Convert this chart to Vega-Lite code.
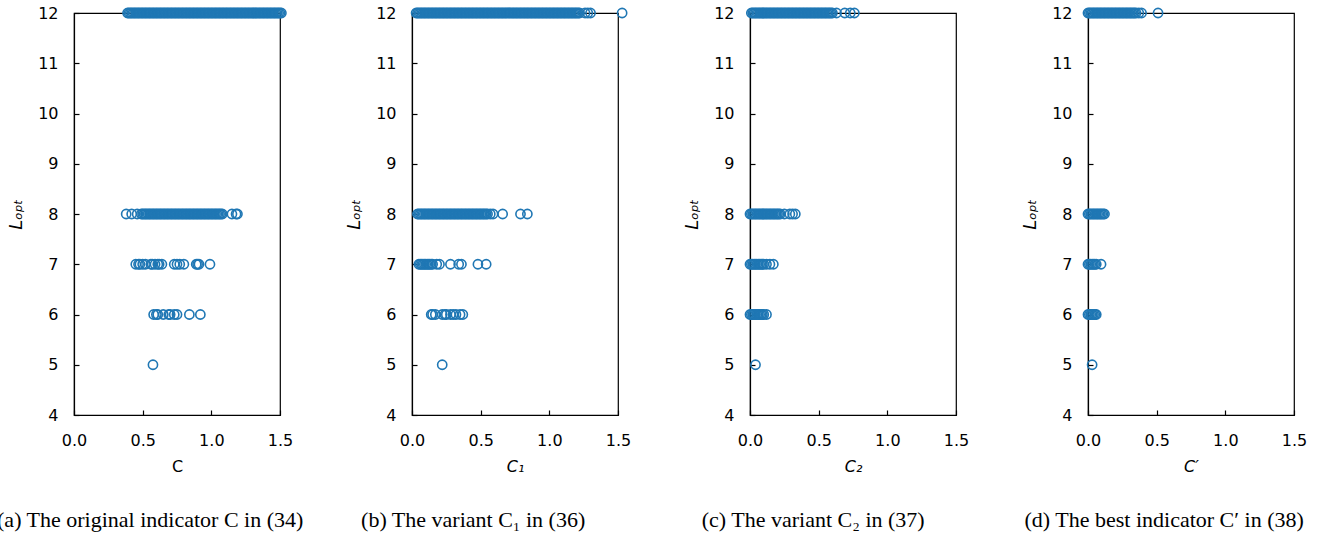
{
  "$schema": "https://vega.github.io/schema/vega-lite/v6.json",
  "padding": {"left": -4, "top": 4, "right": 5, "bottom": 5},
  "bounds": "flush",
  "spacing": 132,
  "background": "white",
  "config": {
    "view": {"stroke": "black", "strokeWidth": 1.2},
    "axis": {
      "grid": false,
      "domainColor": "black",
      "domainWidth": 1.2,
      "tickColor": "black",
      "tickWidth": 1.2,
      "tickSize": -5,
      "labelColor": "black",
      "titleColor": "black",
      "labelFont": "DejaVu Sans",
      "titleFont": "DejaVu Sans",
      "labelFontSize": 16,
      "titleFontSize": 16,
      "titleFontWeight": "normal",
      "labelFlush": false
    },
    "axisX": {"labelPadding": 22, "titlePadding": 10},
    "axisY": {"labelPadding": 21, "titlePadding": 12},
    "title": {
      "orient": "bottom",
      "font": "Liberation Serif",
      "fontSize": 22,
      "fontWeight": "normal",
      "color": "black",
      "anchor": "middle",
      "frame": "bounds",
      "offset": 36
    }
  },
  "datasets": {
    "a": [
      {"c":0.39,"l":12},{"c":0.40,"l":12},{"c":0.41,"l":12},{"c":0.42,"l":12},{"c":0.43,"l":12},{"c":0.44,"l":12},{"c":0.45,"l":12},{"c":0.46,"l":12},{"c":0.47,"l":12},{"c":0.48,"l":12},{"c":0.49,"l":12},
      {"c":0.50,"l":12},{"c":0.51,"l":12},{"c":0.52,"l":12},{"c":0.53,"l":12},{"c":0.54,"l":12},{"c":0.55,"l":12},{"c":0.56,"l":12},{"c":0.57,"l":12},{"c":0.58,"l":12},{"c":0.59,"l":12},
      {"c":0.60,"l":12},{"c":0.61,"l":12},{"c":0.62,"l":12},{"c":0.63,"l":12},{"c":0.64,"l":12},{"c":0.65,"l":12},{"c":0.66,"l":12},{"c":0.67,"l":12},{"c":0.68,"l":12},{"c":0.69,"l":12},
      {"c":0.70,"l":12},{"c":0.71,"l":12},{"c":0.72,"l":12},{"c":0.73,"l":12},{"c":0.74,"l":12},{"c":0.75,"l":12},{"c":0.76,"l":12},{"c":0.77,"l":12},{"c":0.78,"l":12},{"c":0.79,"l":12},
      {"c":0.80,"l":12},{"c":0.81,"l":12},{"c":0.82,"l":12},{"c":0.83,"l":12},{"c":0.84,"l":12},{"c":0.85,"l":12},{"c":0.86,"l":12},{"c":0.87,"l":12},{"c":0.88,"l":12},{"c":0.89,"l":12},
      {"c":0.90,"l":12},{"c":0.91,"l":12},{"c":0.92,"l":12},{"c":0.93,"l":12},{"c":0.94,"l":12},{"c":0.95,"l":12},{"c":0.96,"l":12},{"c":0.97,"l":12},{"c":0.98,"l":12},{"c":0.99,"l":12},
      {"c":1.00,"l":12},{"c":1.01,"l":12},{"c":1.02,"l":12},{"c":1.03,"l":12},{"c":1.04,"l":12},{"c":1.05,"l":12},{"c":1.06,"l":12},{"c":1.07,"l":12},{"c":1.08,"l":12},{"c":1.09,"l":12},
      {"c":1.10,"l":12},{"c":1.11,"l":12},{"c":1.12,"l":12},{"c":1.13,"l":12},{"c":1.14,"l":12},{"c":1.15,"l":12},{"c":1.16,"l":12},{"c":1.17,"l":12},{"c":1.18,"l":12},{"c":1.19,"l":12},
      {"c":1.20,"l":12},{"c":1.21,"l":12},{"c":1.22,"l":12},{"c":1.23,"l":12},{"c":1.24,"l":12},{"c":1.25,"l":12},{"c":1.26,"l":12},{"c":1.27,"l":12},{"c":1.28,"l":12},{"c":1.29,"l":12},
      {"c":1.30,"l":12},{"c":1.31,"l":12},{"c":1.32,"l":12},{"c":1.33,"l":12},{"c":1.34,"l":12},{"c":1.35,"l":12},{"c":1.36,"l":12},{"c":1.37,"l":12},{"c":1.38,"l":12},{"c":1.39,"l":12},
      {"c":1.40,"l":12},{"c":1.41,"l":12},{"c":1.42,"l":12},{"c":1.43,"l":12},{"c":1.44,"l":12},{"c":1.45,"l":12},{"c":1.46,"l":12},{"c":1.47,"l":12},{"c":1.48,"l":12},{"c":1.49,"l":12},
      {"c":1.50,"l":12},{"c":1.51,"l":12},
      {"c":0.38,"l":8},{"c":0.42,"l":8},{"c":0.46,"l":8},
      {"c":0.49,"l":8},{"c":0.50,"l":8},{"c":0.51,"l":8},{"c":0.52,"l":8},{"c":0.53,"l":8},{"c":0.54,"l":8},{"c":0.55,"l":8},{"c":0.56,"l":8},{"c":0.57,"l":8},{"c":0.58,"l":8},{"c":0.59,"l":8},
      {"c":0.60,"l":8},{"c":0.61,"l":8},{"c":0.62,"l":8},{"c":0.63,"l":8},{"c":0.64,"l":8},{"c":0.65,"l":8},{"c":0.66,"l":8},{"c":0.67,"l":8},{"c":0.68,"l":8},{"c":0.69,"l":8},
      {"c":0.70,"l":8},{"c":0.71,"l":8},{"c":0.72,"l":8},{"c":0.73,"l":8},{"c":0.74,"l":8},{"c":0.75,"l":8},{"c":0.76,"l":8},{"c":0.77,"l":8},{"c":0.78,"l":8},{"c":0.79,"l":8},
      {"c":0.80,"l":8},{"c":0.81,"l":8},{"c":0.82,"l":8},{"c":0.83,"l":8},{"c":0.84,"l":8},{"c":0.85,"l":8},{"c":0.86,"l":8},{"c":0.87,"l":8},{"c":0.88,"l":8},{"c":0.89,"l":8},
      {"c":0.90,"l":8},{"c":0.91,"l":8},{"c":0.92,"l":8},{"c":0.93,"l":8},{"c":0.94,"l":8},{"c":0.95,"l":8},{"c":0.96,"l":8},{"c":0.97,"l":8},{"c":0.98,"l":8},{"c":0.99,"l":8},
      {"c":1.00,"l":8},{"c":1.01,"l":8},{"c":1.02,"l":8},{"c":1.03,"l":8},{"c":1.04,"l":8},{"c":1.05,"l":8},{"c":1.06,"l":8},{"c":1.07,"l":8},{"c":1.08,"l":8},
      {"c":1.15,"l":8},{"c":1.18,"l":8},{"c":1.19,"l":8},
      {"c":0.45,"l":7},{"c":0.47,"l":7},{"c":0.48,"l":7},{"c":0.50,"l":7},{"c":0.52,"l":7},{"c":0.56,"l":7},{"c":0.57,"l":7},{"c":0.59,"l":7},{"c":0.61,"l":7},{"c":0.62,"l":7},{"c":0.64,"l":7},
      {"c":0.73,"l":7},{"c":0.75,"l":7},{"c":0.77,"l":7},{"c":0.80,"l":7},{"c":0.89,"l":7},{"c":0.90,"l":7},{"c":0.91,"l":7},{"c":0.99,"l":7},
      {"c":0.58,"l":6},{"c":0.60,"l":6},{"c":0.61,"l":6},{"c":0.65,"l":6},{"c":0.69,"l":6},{"c":0.70,"l":6},{"c":0.73,"l":6},{"c":0.75,"l":6},{"c":0.84,"l":6},{"c":0.92,"l":6},
      {"c":0.575,"l":5}
    ],
    "b": [
      {"c":0.03,"l":12},{"c":0.04,"l":12},{"c":0.05,"l":12},{"c":0.06,"l":12},{"c":0.07,"l":12},{"c":0.08,"l":12},{"c":0.09,"l":12},
      {"c":0.10,"l":12},{"c":0.11,"l":12},{"c":0.12,"l":12},{"c":0.13,"l":12},{"c":0.14,"l":12},{"c":0.15,"l":12},{"c":0.16,"l":12},{"c":0.17,"l":12},{"c":0.18,"l":12},{"c":0.19,"l":12},
      {"c":0.20,"l":12},{"c":0.21,"l":12},{"c":0.22,"l":12},{"c":0.23,"l":12},{"c":0.24,"l":12},{"c":0.25,"l":12},{"c":0.26,"l":12},{"c":0.27,"l":12},{"c":0.28,"l":12},{"c":0.29,"l":12},
      {"c":0.30,"l":12},{"c":0.31,"l":12},{"c":0.32,"l":12},{"c":0.33,"l":12},{"c":0.34,"l":12},{"c":0.35,"l":12},{"c":0.36,"l":12},{"c":0.37,"l":12},{"c":0.38,"l":12},{"c":0.39,"l":12},
      {"c":0.40,"l":12},{"c":0.41,"l":12},{"c":0.42,"l":12},{"c":0.43,"l":12},{"c":0.44,"l":12},{"c":0.45,"l":12},{"c":0.46,"l":12},{"c":0.47,"l":12},{"c":0.48,"l":12},{"c":0.49,"l":12},
      {"c":0.50,"l":12},{"c":0.51,"l":12},{"c":0.52,"l":12},{"c":0.53,"l":12},{"c":0.54,"l":12},{"c":0.55,"l":12},{"c":0.56,"l":12},{"c":0.57,"l":12},{"c":0.58,"l":12},{"c":0.59,"l":12},
      {"c":0.60,"l":12},{"c":0.61,"l":12},{"c":0.62,"l":12},{"c":0.63,"l":12},{"c":0.64,"l":12},{"c":0.65,"l":12},{"c":0.66,"l":12},{"c":0.67,"l":12},{"c":0.68,"l":12},{"c":0.69,"l":12},
      {"c":0.70,"l":12},{"c":0.71,"l":12},{"c":0.72,"l":12},{"c":0.73,"l":12},{"c":0.74,"l":12},{"c":0.75,"l":12},{"c":0.76,"l":12},{"c":0.77,"l":12},{"c":0.78,"l":12},{"c":0.79,"l":12},
      {"c":0.80,"l":12},{"c":0.81,"l":12},{"c":0.82,"l":12},{"c":0.83,"l":12},{"c":0.84,"l":12},{"c":0.85,"l":12},{"c":0.86,"l":12},{"c":0.87,"l":12},{"c":0.88,"l":12},{"c":0.89,"l":12},
      {"c":0.90,"l":12},{"c":0.91,"l":12},{"c":0.92,"l":12},{"c":0.93,"l":12},{"c":0.94,"l":12},{"c":0.95,"l":12},{"c":0.96,"l":12},{"c":0.97,"l":12},{"c":0.98,"l":12},{"c":0.99,"l":12},
      {"c":1.00,"l":12},{"c":1.01,"l":12},{"c":1.02,"l":12},{"c":1.03,"l":12},{"c":1.04,"l":12},{"c":1.05,"l":12},{"c":1.06,"l":12},{"c":1.07,"l":12},{"c":1.08,"l":12},{"c":1.09,"l":12},
      {"c":1.10,"l":12},{"c":1.11,"l":12},{"c":1.12,"l":12},{"c":1.13,"l":12},{"c":1.14,"l":12},{"c":1.15,"l":12},{"c":1.16,"l":12},{"c":1.17,"l":12},{"c":1.18,"l":12},{"c":1.19,"l":12},
      {"c":1.20,"l":12},{"c":1.21,"l":12},{"c":1.22,"l":12},{"c":1.26,"l":12},{"c":1.28,"l":12},{"c":1.30,"l":12},{"c":1.53,"l":12},
      {"c":0.04,"l":8},{"c":0.05,"l":8},{"c":0.06,"l":8},{"c":0.07,"l":8},{"c":0.08,"l":8},{"c":0.09,"l":8},
      {"c":0.10,"l":8},{"c":0.11,"l":8},{"c":0.12,"l":8},{"c":0.13,"l":8},{"c":0.14,"l":8},{"c":0.15,"l":8},{"c":0.16,"l":8},{"c":0.17,"l":8},{"c":0.18,"l":8},{"c":0.19,"l":8},
      {"c":0.20,"l":8},{"c":0.21,"l":8},{"c":0.22,"l":8},{"c":0.23,"l":8},{"c":0.24,"l":8},{"c":0.25,"l":8},{"c":0.26,"l":8},{"c":0.27,"l":8},{"c":0.28,"l":8},{"c":0.29,"l":8},
      {"c":0.30,"l":8},{"c":0.31,"l":8},{"c":0.32,"l":8},{"c":0.33,"l":8},{"c":0.34,"l":8},{"c":0.35,"l":8},{"c":0.36,"l":8},{"c":0.37,"l":8},{"c":0.38,"l":8},{"c":0.39,"l":8},
      {"c":0.40,"l":8},{"c":0.41,"l":8},{"c":0.42,"l":8},{"c":0.43,"l":8},{"c":0.44,"l":8},{"c":0.45,"l":8},{"c":0.46,"l":8},{"c":0.47,"l":8},{"c":0.48,"l":8},{"c":0.49,"l":8},
      {"c":0.50,"l":8},{"c":0.51,"l":8},{"c":0.52,"l":8},{"c":0.53,"l":8},{"c":0.54,"l":8},{"c":0.55,"l":8},{"c":0.57,"l":8},{"c":0.59,"l":8},{"c":0.66,"l":8},{"c":0.79,"l":8},{"c":0.84,"l":8},
      {"c":0.05,"l":7},{"c":0.06,"l":7},{"c":0.07,"l":7},{"c":0.08,"l":7},{"c":0.09,"l":7},{"c":0.10,"l":7},{"c":0.11,"l":7},{"c":0.12,"l":7},{"c":0.13,"l":7},{"c":0.14,"l":7},{"c":0.15,"l":7},
      {"c":0.18,"l":7},{"c":0.20,"l":7},{"c":0.28,"l":7},{"c":0.34,"l":7},{"c":0.36,"l":7},{"c":0.48,"l":7},{"c":0.54,"l":7},
      {"c":0.14,"l":6},{"c":0.15,"l":6},{"c":0.17,"l":6},{"c":0.22,"l":6},{"c":0.24,"l":6},{"c":0.25,"l":6},{"c":0.28,"l":6},{"c":0.30,"l":6},{"c":0.32,"l":6},{"c":0.35,"l":6},{"c":0.37,"l":6},
      {"c":0.22,"l":5}
    ],
    "c": [
      {"c":0.01,"l":12},{"c":0.02,"l":12},{"c":0.03,"l":12},{"c":0.04,"l":12},{"c":0.05,"l":12},{"c":0.06,"l":12},{"c":0.07,"l":12},{"c":0.08,"l":12},{"c":0.09,"l":12},
      {"c":0.10,"l":12},{"c":0.11,"l":12},{"c":0.12,"l":12},{"c":0.13,"l":12},{"c":0.14,"l":12},{"c":0.15,"l":12},{"c":0.16,"l":12},{"c":0.17,"l":12},{"c":0.18,"l":12},{"c":0.19,"l":12},
      {"c":0.20,"l":12},{"c":0.21,"l":12},{"c":0.22,"l":12},{"c":0.23,"l":12},{"c":0.24,"l":12},{"c":0.25,"l":12},{"c":0.26,"l":12},{"c":0.27,"l":12},{"c":0.28,"l":12},{"c":0.29,"l":12},
      {"c":0.30,"l":12},{"c":0.31,"l":12},{"c":0.32,"l":12},{"c":0.33,"l":12},{"c":0.34,"l":12},{"c":0.35,"l":12},{"c":0.36,"l":12},{"c":0.37,"l":12},{"c":0.38,"l":12},{"c":0.39,"l":12},
      {"c":0.40,"l":12},{"c":0.41,"l":12},{"c":0.42,"l":12},{"c":0.43,"l":12},{"c":0.44,"l":12},{"c":0.45,"l":12},{"c":0.46,"l":12},{"c":0.47,"l":12},{"c":0.48,"l":12},{"c":0.49,"l":12},
      {"c":0.50,"l":12},{"c":0.51,"l":12},{"c":0.52,"l":12},{"c":0.53,"l":12},{"c":0.54,"l":12},{"c":0.55,"l":12},{"c":0.56,"l":12},{"c":0.57,"l":12},{"c":0.58,"l":12},{"c":0.59,"l":12},
      {"c":0.60,"l":12},{"c":0.63,"l":12},{"c":0.69,"l":12},{"c":0.73,"l":12},{"c":0.76,"l":12},
      {"c":0.00,"l":8},{"c":0.01,"l":8},{"c":0.02,"l":8},{"c":0.03,"l":8},{"c":0.04,"l":8},{"c":0.05,"l":8},{"c":0.06,"l":8},{"c":0.07,"l":8},{"c":0.08,"l":8},{"c":0.09,"l":8},
      {"c":0.10,"l":8},{"c":0.11,"l":8},{"c":0.12,"l":8},{"c":0.13,"l":8},{"c":0.14,"l":8},{"c":0.15,"l":8},{"c":0.16,"l":8},{"c":0.17,"l":8},{"c":0.18,"l":8},{"c":0.19,"l":8},
      {"c":0.20,"l":8},{"c":0.21,"l":8},{"c":0.22,"l":8},{"c":0.25,"l":8},{"c":0.29,"l":8},{"c":0.31,"l":8},{"c":0.33,"l":8},
      {"c":0.00,"l":7},{"c":0.01,"l":7},{"c":0.02,"l":7},{"c":0.03,"l":7},{"c":0.04,"l":7},{"c":0.05,"l":7},{"c":0.06,"l":7},{"c":0.07,"l":7},{"c":0.08,"l":7},{"c":0.09,"l":7},{"c":0.10,"l":7},
      {"c":0.12,"l":7},{"c":0.145,"l":7},{"c":0.17,"l":7},
      {"c":0.00,"l":6},{"c":0.01,"l":6},{"c":0.02,"l":6},{"c":0.03,"l":6},{"c":0.04,"l":6},{"c":0.05,"l":6},{"c":0.06,"l":6},{"c":0.07,"l":6},{"c":0.08,"l":6},{"c":0.09,"l":6},{"c":0.10,"l":6},
      {"c":0.12,"l":6},
      {"c":0.04,"l":5}
    ],
    "d": [
      {"c":0.00,"l":12},{"c":0.01,"l":12},{"c":0.02,"l":12},{"c":0.03,"l":12},{"c":0.04,"l":12},{"c":0.05,"l":12},{"c":0.06,"l":12},{"c":0.07,"l":12},{"c":0.08,"l":12},{"c":0.09,"l":12},
      {"c":0.10,"l":12},{"c":0.11,"l":12},{"c":0.12,"l":12},{"c":0.13,"l":12},{"c":0.14,"l":12},{"c":0.15,"l":12},{"c":0.16,"l":12},{"c":0.17,"l":12},{"c":0.18,"l":12},{"c":0.19,"l":12},
      {"c":0.20,"l":12},{"c":0.21,"l":12},{"c":0.22,"l":12},{"c":0.23,"l":12},{"c":0.24,"l":12},{"c":0.25,"l":12},{"c":0.26,"l":12},{"c":0.27,"l":12},{"c":0.28,"l":12},{"c":0.29,"l":12},
      {"c":0.30,"l":12},{"c":0.31,"l":12},{"c":0.32,"l":12},{"c":0.33,"l":12},{"c":0.34,"l":12},{"c":0.35,"l":12},{"c":0.37,"l":12},{"c":0.39,"l":12},{"c":0.51,"l":12},
      {"c":0.00,"l":8},{"c":0.01,"l":8},{"c":0.02,"l":8},{"c":0.03,"l":8},{"c":0.04,"l":8},{"c":0.05,"l":8},{"c":0.06,"l":8},{"c":0.07,"l":8},{"c":0.08,"l":8},{"c":0.09,"l":8},
      {"c":0.10,"l":8},{"c":0.11,"l":8},{"c":0.12,"l":8},
      {"c":0.00,"l":7},{"c":0.01,"l":7},{"c":0.02,"l":7},{"c":0.03,"l":7},{"c":0.04,"l":7},{"c":0.05,"l":7},{"c":0.06,"l":7},{"c":0.095,"l":7},
      {"c":0.00,"l":6},{"c":0.01,"l":6},{"c":0.02,"l":6},{"c":0.03,"l":6},{"c":0.04,"l":6},{"c":0.05,"l":6},{"c":0.06,"l":6},
      {"c":0.03,"l":5}
    ]
  },
  "hconcat": [
    {
      "width": 206, "height": 402,
      "data": {"name": "a"},
      "title": {"text": "(a) The original indicator C in (34)", "dx": 0},
      "mark": {"type": "point", "shape": "circle", "filled": false, "size": 85, "strokeWidth": 1.6, "color": "#1f77b4", "opacity": 1},
      "encoding": {
        "x": {"field": "c", "type": "quantitative", "scale": {"domain": [0, 1.5], "nice": false, "zero": false}, "axis": {"values": [0, 0.5, 1, 1.5], "format": ".1f", "title": "C"}},
        "y": {"field": "l", "type": "quantitative", "scale": {"domain": [4, 12], "nice": false, "zero": false}, "axis": {"values": [4, 5, 6, 7, 8, 9, 10, 11, 12], "format": "d", "title": "Lₒₚₜ", "titleFontStyle": "italic", "titleFontSize": 18}}
      }
    },
    {
      "width": 206, "height": 402,
      "data": {"name": "b"},
      "title": {"text": "(b) The variant C₁ in (36)", "dx": -15},
      "mark": {"type": "point", "shape": "circle", "filled": false, "size": 85, "strokeWidth": 1.6, "color": "#1f77b4", "opacity": 1},
      "encoding": {
        "x": {"field": "c", "type": "quantitative", "scale": {"domain": [0, 1.5], "nice": false, "zero": false}, "axis": {"values": [0, 0.5, 1, 1.5], "format": ".1f", "title": "C₁", "titleFontStyle": "italic"}},
        "y": {"field": "l", "type": "quantitative", "scale": {"domain": [4, 12], "nice": false, "zero": false}, "axis": {"values": [4, 5, 6, 7, 8, 9, 10, 11, 12], "format": "d", "title": "Lₒₚₜ", "titleFontStyle": "italic", "titleFontSize": 18}}
      }
    },
    {
      "width": 206, "height": 402,
      "data": {"name": "c"},
      "title": {"text": "(c) The variant C₂ in (37)", "dx": -13},
      "mark": {"type": "point", "shape": "circle", "filled": false, "size": 85, "strokeWidth": 1.6, "color": "#1f77b4", "opacity": 1},
      "encoding": {
        "x": {"field": "c", "type": "quantitative", "scale": {"domain": [0, 1.5], "nice": false, "zero": false}, "axis": {"values": [0, 0.5, 1, 1.5], "format": ".1f", "title": "C₂", "titleFontStyle": "italic"}},
        "y": {"field": "l", "type": "quantitative", "scale": {"domain": [4, 12], "nice": false, "zero": false}, "axis": {"values": [4, 5, 6, 7, 8, 9, 10, 11, 12], "format": "d", "title": "Lₒₚₜ", "titleFontStyle": "italic", "titleFontSize": 18}}
      }
    },
    {
      "width": 206, "height": 402,
      "data": {"name": "d"},
      "title": {"text": "(d) The best indicator C′ in (38)", "dx": 0},
      "mark": {"type": "point", "shape": "circle", "filled": false, "size": 85, "strokeWidth": 1.6, "color": "#1f77b4", "opacity": 1},
      "encoding": {
        "x": {"field": "c", "type": "quantitative", "scale": {"domain": [0, 1.5], "nice": false, "zero": false}, "axis": {"values": [0, 0.5, 1, 1.5], "format": ".1f", "title": "C′", "titleFontStyle": "italic"}},
        "y": {"field": "l", "type": "quantitative", "scale": {"domain": [4, 12], "nice": false, "zero": false}, "axis": {"values": [4, 5, 6, 7, 8, 9, 10, 11, 12], "format": "d", "title": "Lₒₚₜ", "titleFontStyle": "italic", "titleFontSize": 18}}
      }
    }
  ]
}
